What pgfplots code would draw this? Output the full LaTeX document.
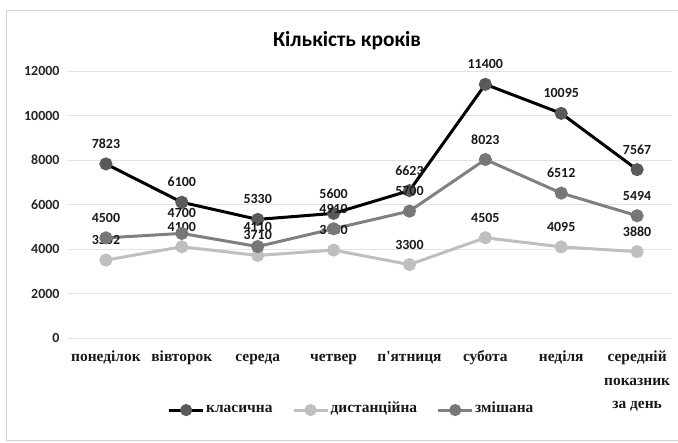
\documentclass[border=0pt]{standalone}
\usepackage{pgfplots}
\pgfplotsset{compat=1.18}
\usepackage{fontspec}
\setmainfont{Liberation Serif}
\newfontfamily\tnr{Liberation Serif}
\newfontfamily\calibri{Carlito}
\definecolor{clsline}{HTML}{000000}
\definecolor{clsmark}{HTML}{5A5A5A}
\definecolor{distcol}{HTML}{BFBFBF}
\definecolor{mixcol}{HTML}{808080}
\definecolor{mixmark}{HTML}{777777}
\definecolor{gridc}{HTML}{E3E3E3}
\begin{document}
\begin{tikzpicture}[x=1bp,y=1bp]
\path[use as bounding box] (0,0) rectangle (678,443);
\draw[color=black!18, line width=1bp] (6.5,2.5) rectangle (700,432);
\node[font=\calibri\bfseries\fontsize{21.5}{24}\selectfont] at (347,402) {Кількість кроків};
\begin{axis}[
  at={(68bp,105bp)}, anchor=south west,
  scale only axis, width=604bp, height=267bp,
  xmin=-0.5, xmax=7.46, ymin=0, ymax=12000,
  axis line style={draw=none},
  tick style={draw=none},
  ymajorgrids, major grid style={color=gridc, line width=0.9bp},
  ytick={0,2000,4000,6000,8000,10000,12000},
  scaled y ticks=false,
  yticklabel={\pgfmathprintnumber[1000 sep={},fixed,precision=0,assume math mode=true]{\tick}},
  yticklabel style={font=\calibri\bfseries\fontsize{14}{16}\selectfont, text=black!85, xshift=-5bp},
  xtick={0,1,2,3,4,5,6,7},
  xticklabels={понеділок, вівторок, середа, четвер, п'ятниця, субота, неділя, {середній\\показник\\за день}},
  typeset ticklabels with strut,
  xticklabel style={font=\tnr\bfseries\fontsize{15.5}{23.5}\selectfont, align=center, anchor=north, yshift=-4bp, text=black!90},
  nodes near coords={\pgfmathprintnumber[1000 sep={},fixed,precision=0,assume math mode=true]{\pgfplotspointmeta}},
  every node near coord/.style={anchor=center, yshift=20bp, font=\calibri\bfseries\fontsize{14}{16}\selectfont, text=black!90},
  legend style={at={(0.469,-0.27)}, anchor=center, draw=none, fill=none, legend columns=3,
    font=\tnr\bfseries\fontsize{15.5}{18}\selectfont, text=black!90,
    nodes={text height=1.6ex, text depth=0.4ex, inner sep=1.5bp},
    /tikz/every even column/.append style={column sep=18bp}},
  legend cell align=left,
  legend image code/.code={\draw[mark repeat=2,mark phase=2, mark size=4.5bp] plot coordinates {(0bp,0bp) (17bp,0bp) (34bp,0bp)};},
]
\addplot[color=clsline, line width=3bp, mark=*, mark size=5bp, mark options={fill=clsmark, draw=clsmark}]
  coordinates {(0,7823) (1,6100) (2,5330) (3,5600) (4,6623) (5,11400) (6,10095) (7,7567)};
\addplot[color=distcol, line width=3bp, mark=*, mark size=5bp, mark options={fill=distcol, draw=distcol}]
  coordinates {(0,3502) (1,4100) (2,3710) (3,3950) (4,3300) (5,4505) (6,4095) (7,3880)};
\addplot[color=mixcol, line width=3bp, mark=*, mark size=5bp, mark options={fill=mixmark, draw=mixmark}]
  coordinates {(0,4500) (1,4700) (2,4110) (3,4910) (4,5700) (5,8023) (6,6512) (7,5494)};
\legend{класична, дистанційна, змішана}
\end{axis}
\end{tikzpicture}
\end{document}
